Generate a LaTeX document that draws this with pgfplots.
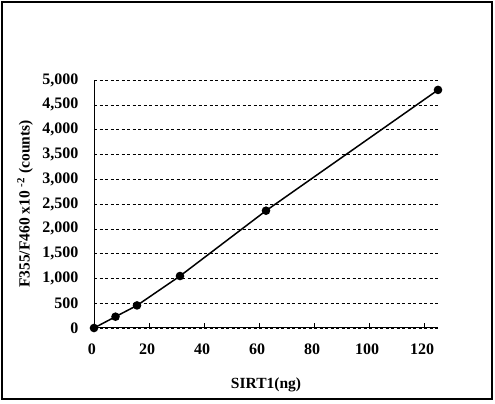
\documentclass[border=0pt]{standalone}
\usepackage{fontspec}
\setmainfont{Liberation Serif}
\usepackage{pgfplots}
\pgfplotsset{compat=1.18}
\begin{document}
\begin{tikzpicture}[x=1pt,y=1pt]
\useasboundingbox (0,0) rectangle (495,404);
\draw[line width=1.5pt] (2,5) rectangle (492,402);
\begin{axis}[
    at={(94pt,76pt)}, anchor=south west,
    scale only axis,
    width=344pt, height=248pt,
    xmin=0, xmax=125, ymin=0, ymax=5000,
    axis x line=bottom, axis y line=left,
    axis line style={-, line width=1pt},
    xtick={0,20,...,120},
    ytick={0,500,...,5000},
    tick align=inside,
    major tick length=5pt,
    xtick style={line width=0.8pt, black},
    ytick style={draw=none},
    ymajorgrids,
    grid style={black, line width=0.6pt, dash pattern=on 3pt off 2.5pt},
    /pgf/number format/assume math mode=true,
    /pgf/number format/1000 sep={,},
    tick label style={font=\fontsize{16}{18}\selectfont\bfseries},
    yticklabel style={xshift=-12pt},
    xticklabel style={yshift=-12pt, xshift=-2pt},
    xlabel={SIRT1(ng)},
    ylabel={F355/F460 x10 \textsuperscript{-2} (counts)},
    every axis x label/.style={at={(axis description cs:0.5,-0.2298)}, anchor=center,
        font=\fontsize{15.5}{17}\selectfont\bfseries},
    every axis y label/.style={at={(axis description cs:-0.2006,0.5)}, rotate=90, anchor=center,
        font=\fontsize{15.5}{17}\selectfont\bfseries},
    clip=false,
]
\addplot[black, line width=1.5pt, mark=*, mark size=3.5pt, mark options={fill=black}] coordinates {
    (0,0) (7.8125,228) (15.625,455) (31.25,1048) (62.5,2365) (125,4800)
};
\end{axis}
\end{tikzpicture}
\end{document}
